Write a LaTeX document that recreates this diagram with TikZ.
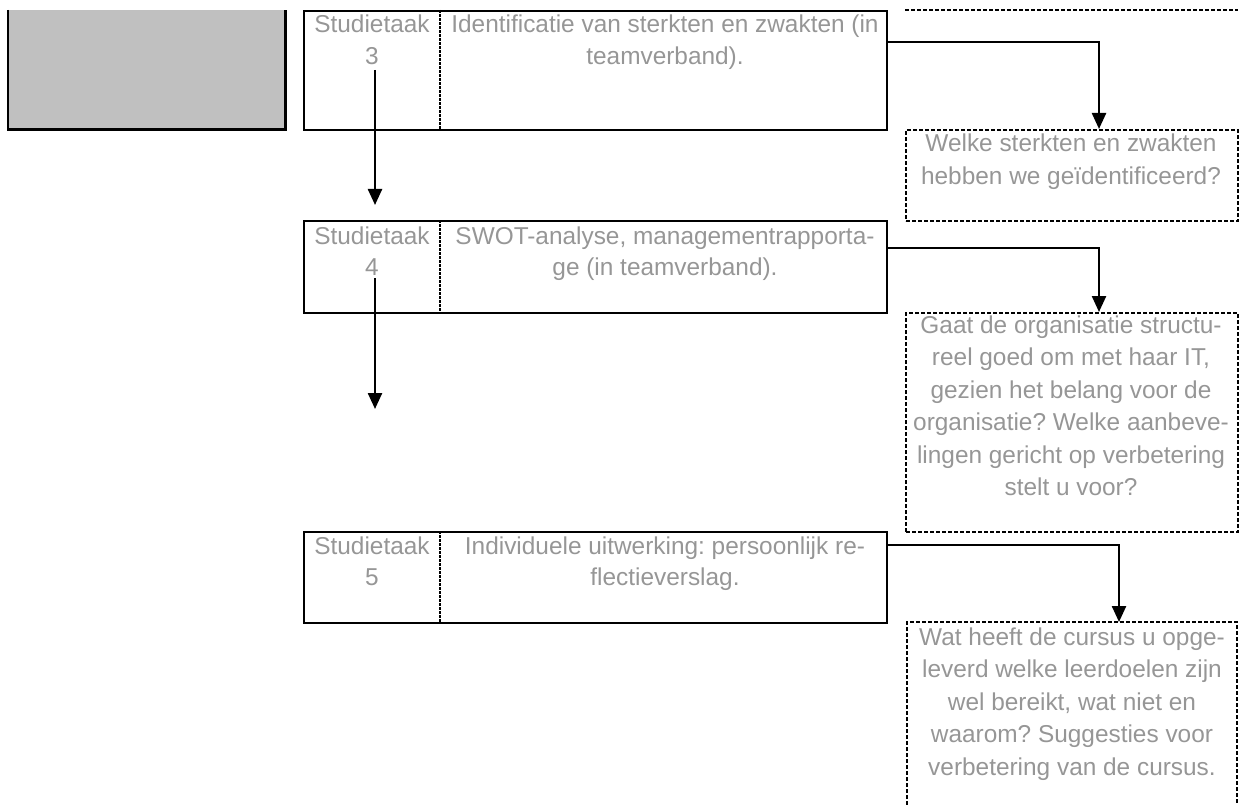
\documentclass[tikz,border=0pt]{standalone}
\usepackage{fontspec}
\setmainfont{Liberation Sans}
\usetikzlibrary{arrows.meta}
\definecolor{txtgray}{RGB}{150,150,150}
\definecolor{fillgray}{RGB}{192,192,192}
\newcommand{\mylinesA}[1]{\parbox[t]{600pt}{\centering\frenchspacing\fontsize{24.4}{31.5}\selectfont #1}}
\newcommand{\mylinesB}[1]{\parbox[t]{600pt}{\centering\frenchspacing\fontsize{24.4}{32.5}\selectfont #1}}
\begin{document}
\begin{tikzpicture}[x=1pt,y=-1pt,
  taskbox/.style={draw=black, line width=2.4pt, inner sep=0pt, anchor=north west},
  qline/.style={draw=black, line width=2.4pt, dash pattern=on 4pt off 2pt},
  qbox/.style={qline, inner sep=0pt, anchor=north west},
  divider/.style={draw=black, line width=1.6pt, dash pattern=on 3pt off 1pt},
  arr/.style={draw=black, line width=2.4pt, -{Triangle[width=14pt,length=16pt]}},
  lbl/.style={inner sep=0pt, anchor=base, text=txtgray},
]
\useasboundingbox (0,0) rectangle (1239,805);

% grey box (top cut off)
\node[fill=fillgray, inner sep=0pt, minimum width=277pt, minimum height=119pt, anchor=north west] (grey) at (8,10) {};
\draw[line width=2.4pt] (grey.north west) -- (grey.south west) -- (grey.south east) -- (grey.north east);

% dashed line at top right (bottom edge of a box above)
\coordinate (topL) at (905,10);
\coordinate (topR) at (1238,10);
\draw[qline] (topL) -- (topR);

% task boxes
\node[taskbox, minimum width=583pt, minimum height=119pt] (b3) at (303,10) {};
\node[taskbox, minimum width=583pt, minimum height=92pt] (b4) at (303,220) {};
\node[taskbox, minimum width=583pt, minimum height=91pt] (b5) at (303,531) {};
\draw[divider] (b3.north west -| 440,0) -- (b3.south west -| 440,0);
\draw[divider] (b4.north west -| 440,0) -- (b4.south west -| 440,0);
\draw[divider] (b5.north west -| 440,0) -- (b5.south west -| 440,0);

% question boxes
\node[qbox, minimum width=332pt, minimum height=91pt] (q3) at (905,129) {};
\node[qbox, minimum width=332pt, minimum height=219pt] (q4) at (905,312) {};
\coordinate (q5bl) at (907,805);
\coordinate (q5tl) at (907,622);
\coordinate (q5tr) at (1237,622);
\coordinate (q5br) at (1237,805);
\draw[qline] (q5bl) -- (q5tl) -- (q5tr) -- (q5br);

% texts
\node[lbl] (t3a) at (372,33) {\mylinesA{Studietaak\\3}};
\node[lbl] (t3b) at (665,33) {\mylinesA{Identificatie van sterkten en zwakten (in\\teamverband).}};
\node[lbl] (t4a) at (372,244) {\mylinesA{Studietaak\\4}};
\node[lbl] (t4b) at (665,244) {\mylinesA{SWOT-analyse, managementrapporta-\\ge (in teamverband).}};
\node[lbl] (t5a) at (372,554) {\mylinesA{Studietaak\\5}};
\node[lbl] (t5b) at (665,554) {\mylinesA{Individuele uitwerking: persoonlijk re-\\flectieverslag.}};

\node[lbl] (tq3) at (1071,152) {\mylinesB{Welke sterkten en zwakten\\hebben we geïdentificeerd?}};
\node[lbl] (tq4) at (1071,333) {\mylinesB{Gaat de organisatie structu-\\reel goed om met haar IT,\\gezien het belang voor de\\organisatie? Welke aanbeve-\\lingen gericht op verbetering\\stelt u voor?}};
\node[lbl] (tq5) at (1072,645) {\mylinesB{Wat heeft de cursus u opge-\\leverd welke leerdoelen zijn\\wel bereikt, wat niet en\\waarom? Suggesties voor\\verbetering van de cursus.}};

% vertical arrows in left column
\coordinate (a3s) at (375,70);
\coordinate (a3e) at (375,205);
\coordinate (a4s) at (375,278);
\coordinate (a4e) at (375,409);
\draw[arr] (a3s) -- (a3e);
\draw[arr] (a4s) -- (a4e);

% connectors to question boxes
\draw[arr] (b3.east |- 0,42) -| ([xshift=194pt]q3.north west);
\draw[arr] (b4.east |- 0,248) -| ([xshift=194pt]q4.north west);
\draw[arr] (b5.east |- 0,545) -| (q5tl -| 1119,0);
\end{tikzpicture}
\end{document}
